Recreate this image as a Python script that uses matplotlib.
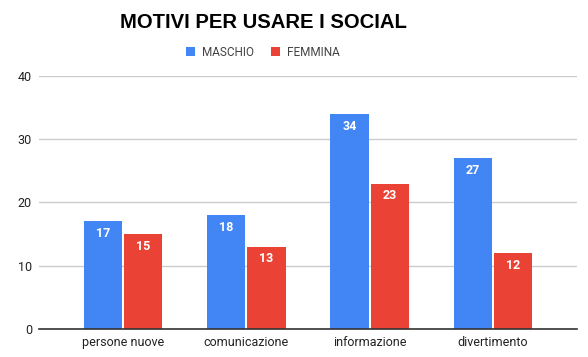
import matplotlib
matplotlib.use("Agg")
import matplotlib.pyplot as plt
import numpy as np
from matplotlib.patches import Patch

categories = ["persone nuove", "comunicazione", "informazione", "divertimento"]
maschio = [17, 18, 34, 27]
femmina = [15, 13, 23, 12]
series_names = ["MASCHIO", "FEMMINA"]
title = "MOTIVI PER USARE I SOCIAL"
yticks = [0, 10, 20, 30, 40]

BLUE = "#4285F4"
RED = "#EA4335"

fig = plt.figure(figsize=(5.88, 3.57), dpi=100)
ax = fig.add_axes([39/588, 1-329/357, (577-39)/588, (329-76)/357])

x = np.arange(len(categories))
w = 0.31
gap = 0.008
b1 = ax.bar(x - w/2 - gap, maschio, w, color=BLUE, zorder=3)
b2 = ax.bar(x + w/2 + gap, femmina, w, color=RED, zorder=3)

for bars, vals in ((b1, maschio), (b2, femmina)):
    for rect, v in zip(bars, vals):
        ax.annotate(str(v), (rect.get_x() + rect.get_width()/2, v),
                    xytext=(0, -4), textcoords="offset points",
                    ha="center", va="top", color="white",
                    fontsize=9, fontweight="bold", family="Roboto", zorder=4)

ax.set_xlim(-0.68, len(categories) - 1 + 0.68)
ax.set_ylim(0, 40)
ax.set_yticks(yticks)
ax.set_yticklabels([str(t) for t in yticks], family="Roboto", fontsize=9, color="#222222")
ax.set_xticks(x)
ax.set_xticklabels(categories, family="Roboto", fontsize=9, color="#222222")
ax.tick_params(axis="x", length=0, pad=5)
ax.tick_params(axis="y", length=0, pad=5)
ax.grid(axis="y", color="#CCCCCC", linewidth=1, zorder=0)
for s in ["top", "right", "left"]:
    ax.spines[s].set_visible(False)
ax.spines["bottom"].set_color("#333333")
ax.spines["bottom"].set_linewidth(1.2)
ax.spines["bottom"].set_zorder(5)

fig.text(263/588, 1-22/357, title, ha="center", va="center",
         family="Liberation Sans", fontweight="bold", fontsize=14.6, color="black")

handles = [Patch(facecolor=BLUE, edgecolor="none"), Patch(facecolor=RED, edgecolor="none")]
fig.legend(handles, series_names, loc="center", bbox_to_anchor=(263/588, 1-52/357),
           ncol=2, frameon=False, handlelength=0.75, handleheight=0.9,
           handletextpad=0.6, columnspacing=1.4,
           prop={"family": "Roboto", "size": 8.5})
for t in fig.legends[0].get_texts():
    t.set_color("#444444")

fig.savefig("out.png", dpi=100, facecolor="white")
